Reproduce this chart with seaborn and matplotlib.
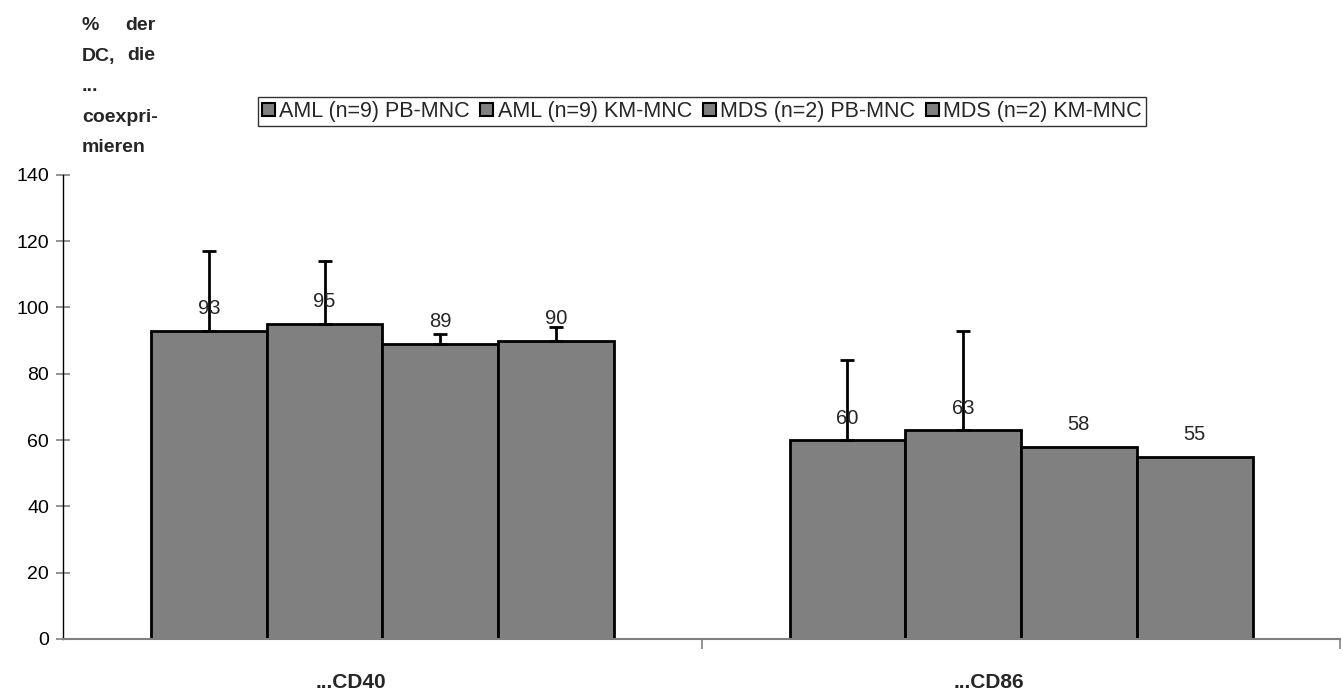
import seaborn as sns
import matplotlib.pyplot as plt
import pandas as pd

categories = ['...CD40', '...CD86']
groups = ['AML (n=9) PB-MNC', 'AML (n=9) KM-MNC', 'MDS (n=2) PB-MNC', 'MDS (n=2) KM-MNC']
values = {
    'AML (n=9) PB-MNC': [93, 60],
    'AML (n=9) KM-MNC': [95, 63],
    'MDS (n=2) PB-MNC': [89, 58],
    'MDS (n=2) KM-MNC': [90, 55],
}
errors = {
    'AML (n=9) PB-MNC': [24, 24],
    'AML (n=9) KM-MNC': [19, 30],
    'MDS (n=2) PB-MNC': [3, 0],
    'MDS (n=2) KM-MNC': [4, 0],
}

rows = []
for g in groups:
    for c, v, e in zip(categories, values[g], errors[g]):
        rows.append({'cat': c, 'grp': g, 'val': v, 'err': e})
df = pd.DataFrame(rows)

sns.set_style('white')
plt.rcParams['font.family'] = ['Liberation Sans', 'DejaVu Sans']

fig = plt.figure(figsize=(13.43, 6.95), dpi=100)
ax = fig.add_axes([0.047, 0.0806, 0.951, 0.668])

grey = '#808080'
sns.barplot(data=df, x='cat', y='val', hue='grp', hue_order=groups, order=categories,
            palette=[grey] * 4, width=0.725, errorbar=None, saturation=1,
            edgecolor='black', linewidth=2, ax=ax, legend=False)

# error bars and value labels, one per bar container
for cont, g in zip(ax.containers, groups):
    for bar, (c, v, e) in zip(cont, zip(categories, values[g], errors[g])):
        xc = bar.get_x() + bar.get_width() / 2
        if e > 0:
            ax.errorbar(xc, v, yerr=[[0], [e]], color='black', elinewidth=2,
                        capsize=5, capthick=2, fmt='none', zorder=3)
        ax.annotate(str(v), (xc, v), xytext=(0, 9), textcoords='offset points',
                    ha='center', va='bottom', fontsize=14.5, zorder=4)

ax.set_xlim(-0.5, 1.5)
ax.set_ylim(0, 140)
ax.set_yticks(range(0, 141, 20))
ax.set_xlabel('')
ax.set_ylabel('')

for s in ['top', 'right']:
    ax.spines[s].set_visible(False)
ax.spines['left'].set_color('black')
ax.spines['left'].set_linewidth(1)
ax.spines['bottom'].set_color('#808080')
ax.spines['bottom'].set_linewidth(1.5)

ax.tick_params(axis='y', left=True, direction='inout', length=10, width=1.2,
               colors='#808080', labelcolor='black', labelsize=14, pad=5)
ax.set_xticks([0, 1])
ax.set_xticklabels([])
ax.tick_params(axis='x', which='major', length=0)
ax.set_xticks([0.5, 1.5], minor=True)
ax.tick_params(axis='x', which='minor', bottom=True, direction='out', length=7,
               width=1.2, colors='#808080')

# category labels (sit a little left of the category centre, as in the original)
for i, c in enumerate(categories):
    ax.annotate(c, (i, 0), xycoords=('data', 'axes fraction'), xytext=(-23, -31),
                textcoords='offset points', ha='center', va='center',
                fontsize=15, fontweight='bold')

# legend
handles = [plt.Rectangle((0, 0), 1, 1, facecolor=grey, edgecolor='black', linewidth=1.5)
           for _ in groups]
leg = fig.legend(handles, groups, loc='center', bbox_to_anchor=(0.5225, 0.8395), ncol=4,
                 frameon=True, fancybox=False, fontsize=15.5, handlelength=0.6,
                 handleheight=0.6, handletextpad=0.2, columnspacing=0.5,
                 borderpad=0.2, borderaxespad=0)
leg.get_frame().set_edgecolor('black')
leg.get_frame().set_linewidth(1)

# y-axis title, justified block at top-left
ytitle_lines = [('%', 'der'), ('DC,', 'die'), ('...', ''), ('coexpri-', ''), ('mieren', '')]
x_left, x_right = 82 / 1343, 155 / 1343
for i, (l, r) in enumerate(ytitle_lines):
    y = 1 - (30 + i * 30.5) / 695
    fig.text(x_left, y, l, ha='left', va='baseline', fontsize=14, fontweight='bold')
    if r:
        fig.text(x_right, y, r, ha='right', va='baseline', fontsize=14, fontweight='bold')

fig.savefig('out.png', dpi=100)
